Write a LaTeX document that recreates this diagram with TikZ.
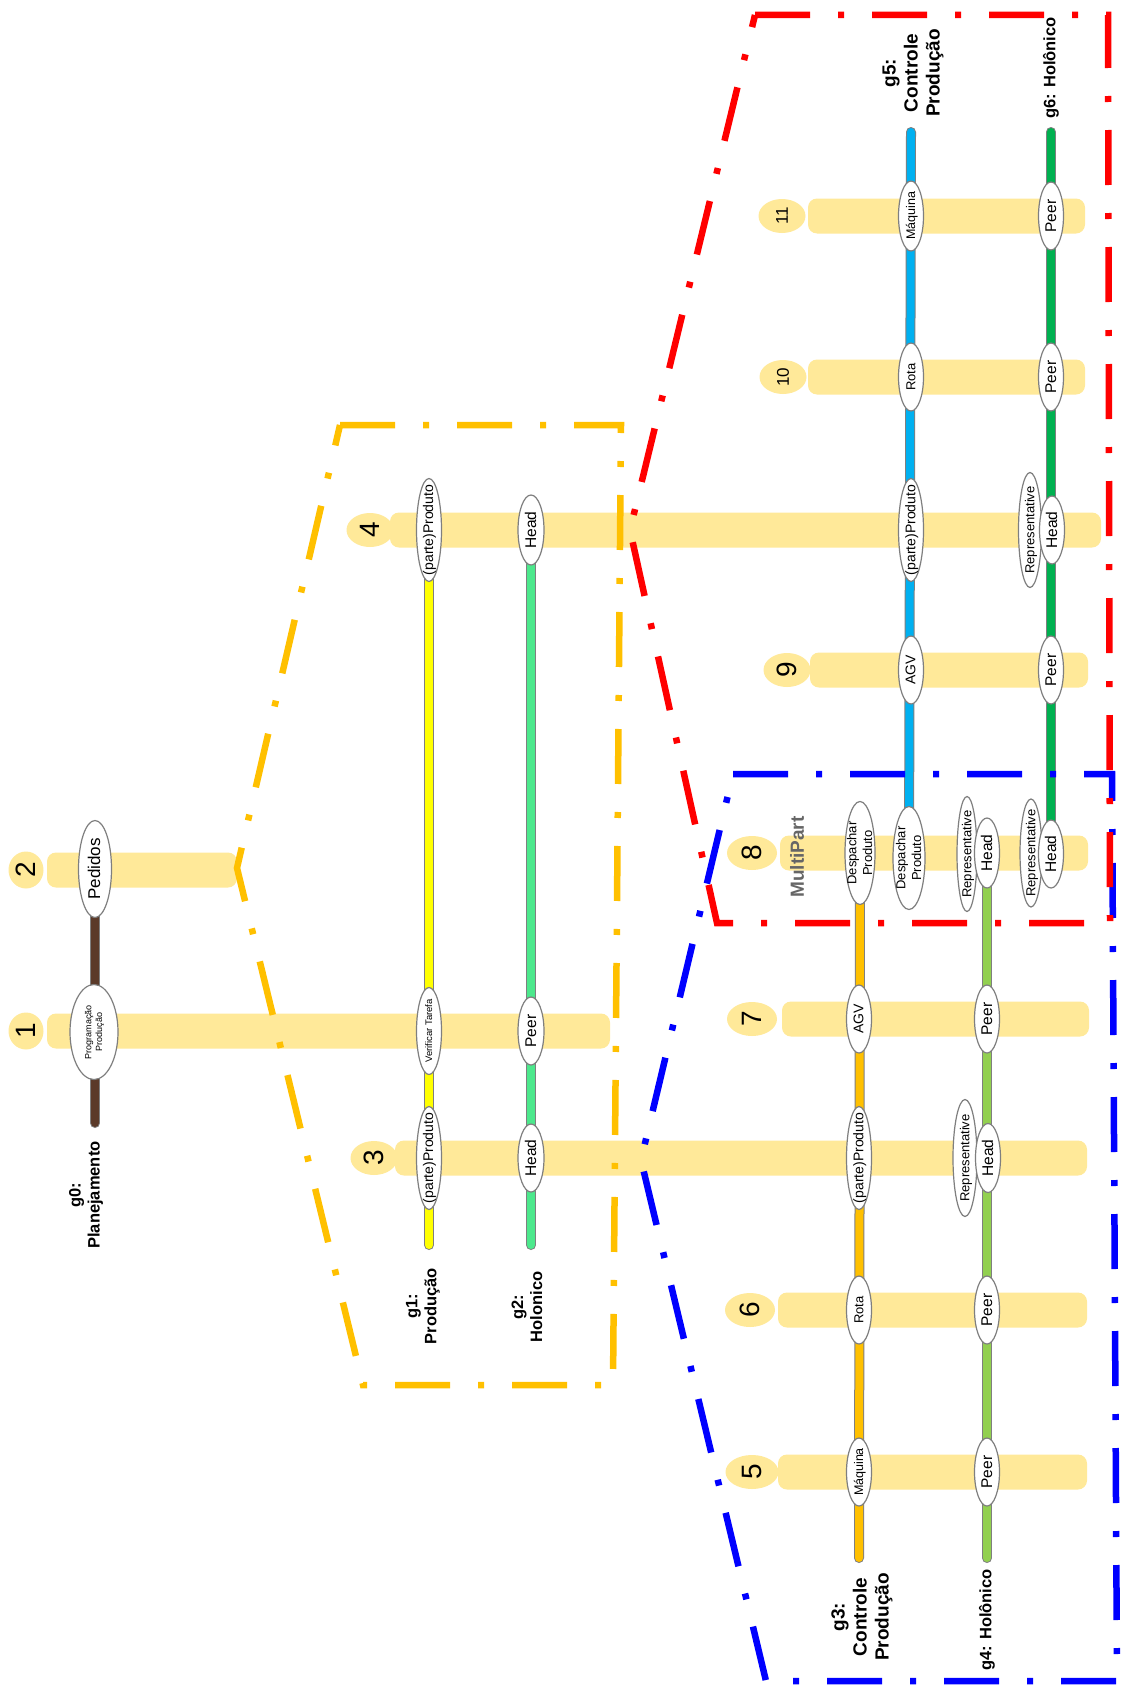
\documentclass[tikz,border=0pt]{standalone}
\usepackage{fontspec}
\setmainfont{Liberation Sans}
\usetikzlibrary{shapes.geometric}
\pgfdeclarelayer{bars}
\pgfdeclarelayer{lines}
\pgfdeclarelayer{top}
\pgfsetlayers{bars,lines,main,top}
\definecolor{barc}{HTML}{FFE999}
\definecolor{brownc}{HTML}{5B3A29}
\definecolor{yelc}{HTML}{FFFF00}
\definecolor{mintc}{HTML}{4CE88C}
\definecolor{orc}{HTML}{FFC000}
\definecolor{lgc}{HTML}{92D050}
\definecolor{bluec}{HTML}{00B0F0}
\definecolor{grc}{HTML}{00B050}
\definecolor{outc}{HTML}{7F7F7F}
\definecolor{redc}{HTML}{FF0000}
\definecolor{bluedc}{HTML}{0000FF}
\newcommand\zt[1]{\makebox[0pt]{\raisebox{-0.32em}[0pt][0pt]{\begin{tabular}{@{}c@{}}#1\end{tabular}}}}
\newcommand\fs[1]{\fontsize{#1}{1.2\dimexpr #1pt\relax}\selectfont}
\tikzset{
  el/.style 2 args={ellipse, draw=outc, line width=1.2pt, fill=white, inner sep=0pt, outer sep=0pt, rotate=90, minimum width=#2, minimum height=#1},
  rowlbl/.style 2 args={ellipse, fill=barc, inner sep=0pt, rotate=90, minimum width=#2, minimum height=#1},
  vline/.style={line cap=round, line width=8pt, draw=#1, preaction={draw=outc, line width=10pt, line cap=round}},
  grp/.style={line width=6.5pt, dash pattern=on 55pt off 28pt on 6pt off 28pt, draw=#1},
  glabel/.style={rotate=90, align=center, inner sep=0pt, font=\bfseries\fontsize{16.5}{19}\selectfont},
  glabelb/.style={rotate=90, align=center, inner sep=0pt, font=\bfseries\fontsize{19}{22}\selectfont},
}
\begin{document}
\begin{tikzpicture}[x=1pt,y=-1pt]
\useasboundingbox (0,0) rectangle (1121,1686);
\begin{pgfonlayer}{bars}
\fill[white] (0,0) rectangle (1121,1686);
\fill[barc, rounded corners=9pt] (47,852.5) rectangle (237,887.5);
\fill[barc, rounded corners=9pt] (47,1013.5) rectangle (610,1048.5);
\fill[barc, rounded corners=9pt] (395,1140.5) rectangle (1087,1175.5);
\fill[barc, rounded corners=9pt] (390,512.5) rectangle (1101,547.5);
\fill[barc, rounded corners=9pt] (778,1454.5) rectangle (1087,1489.5);
\fill[barc, rounded corners=9pt] (778,1292.5) rectangle (1087,1327.5);
\fill[barc, rounded corners=9pt] (782,1001.5) rectangle (1089,1036.5);
\fill[barc, rounded corners=9pt] (780,835.5) rectangle (1088,870.5);
\fill[barc, rounded corners=9pt] (810,652.5) rectangle (1088,687.5);
\fill[barc, rounded corners=9pt] (808,359.5) rectangle (1085,394.5);
\fill[barc, rounded corners=9pt] (808,198.5) rectangle (1085,233.5);
\end{pgfonlayer}

% row labels
\node[rowlbl={35}{37}, font=\fs{28}] (r2) at (26,870) {2};
\node[rowlbl={35}{37}, font=\fs{28}] (r1) at (26,1031) {1};
\node[rowlbl={47}{34}, font=\fs{28}] (r3) at (374,1158) {3};
\node[rowlbl={47}{34}, font=\fs{28}] (r4) at (370,530) {4};
\node[rowlbl={53}{34}, font=\fs{28}] (r5) at (752,1472) {5};
\node[rowlbl={50}{34}, font=\fs{28}] (r6) at (750,1310) {6};
\node[rowlbl={50}{34}, font=\fs{28}] (r7) at (752,1019) {7};
\node[rowlbl={50}{34}, font=\fs{28}] (r8) at (752,853) {8};
\node[rowlbl={47}{34}, font=\fs{28}] (r9) at (787,670) {9};
\node[rowlbl={47}{34}, font=\fs{17}] (r10) at (783,377) {10};
\node[rowlbl={47}{34}, font=\fs{17}] (r11) at (782,216) {11};

\node[rotate=90, inner sep=0pt, text=black!60, font=\bfseries\fs{19}] (mp) at (797,857) {MultiPart};

% g0
\node[el={33}{97}, font=\fs{17}] (n0a) at (95,869) {\zt{Pedidos}};
\node[el={48}{95}, font=\fs{9}] (n0b) at (94,1032) {\zt{Programação\\Produção}};
\coordinate (g0e) at (95,1123);
% g1
\node[el={25}{103}, font=\fs{14}] (n1a) at (429,530) {\zt{(parte)Produto}};
\node[el={25}{87}, font=\fs{9.5}] (n1b) at (429,1031) {\zt{Verificar Tarefa}};
\node[el={25}{103}, font=\fs{14}] (n1c) at (429,1158) {\zt{(parte)Produto}};
\coordinate (g1e) at (429,1245);
% g2
\node[el={26}{70}, font=\fs{15.5}] (n2a) at (531,530) {\zt{Head}};
\node[el={26}{68}, font=\fs{15.5}] (n2b) at (531,1031) {\zt{Peer}};
\node[el={26}{68}, font=\fs{15.5}] (n2c) at (531,1158) {\zt{Head}};
\coordinate (g2e) at (531,1245);
% g3
\node[el={30}{103}, font=\fs{13}] (n3a) at (860,853) {\zt{Despachar\\Produto}};
\node[el={25}{68}, font=\fs{14}] (n3b) at (859,1019) {\zt{AGV}};
\node[el={25}{103}, font=\fs{14}] (n3c) at (859,1158) {\zt{(parte)Produto}};
\node[el={25}{68}, font=\fs{13}] (n3d) at (859,1310) {\zt{Rota}};
\node[el={25}{68}, font=\fs{12.5}] (n3e) at (859,1472) {\zt{Máquina}};
\coordinate (g3e) at (859,1558);
% g4
\node[el={20}{115}, font=\fs{13}] (n4r1) at (967,854) {\zt{Representative}};
\node[el={25}{70}, font=\fs{15.5}] (n4a) at (987,853) {\zt{Head}};
\node[el={25}{68}, font=\fs{15.5}] (n4b) at (987,1019) {\zt{Peer}};
\node[el={24}{117}, font=\fs{13}] (n4r2) at (965,1158) {\zt{Representative}};
\node[el={25}{69}, font=\fs{15.5}] (n4c) at (988,1158) {\zt{Head}};
\node[el={25}{68}, font=\fs{15.5}] (n4d) at (987,1310) {\zt{Peer}};
\node[el={25}{68}, font=\fs{15.5}] (n4e) at (987,1472) {\zt{Peer}};
\coordinate (g4e) at (987,1558);
% g5
\coordinate (g5s) at (911,132);
\node[el={25}{70}, font=\fs{12.5}] (n5a) at (911,216) {\zt{Máquina}};
\node[el={25}{68}, font=\fs{13}] (n5b) at (911,377) {\zt{Rota}};
\node[el={25}{103}, font=\fs{14}] (n5c) at (911,530) {\zt{(parte)Produto}};
\node[el={25}{68}, font=\fs{14}] (n5d) at (911,670) {\zt{AGV}};
\node[el={32}{103}, font=\fs{13}] (n5e) at (909,858) {\zt{Despachar\\Produto}};
% g6
\coordinate (g6s) at (1051,132);
\node[el={25}{68}, font=\fs{15.5}] (n6a) at (1051,216) {\zt{Peer}};
\node[el={25}{68}, font=\fs{15.5}] (n6b) at (1051,377) {\zt{Peer}};
\node[el={23}{115}, font=\fs{13}] (n6r1) at (1030,530) {\zt{Representative}};
\node[el={25}{68}, font=\fs{15.5}] (n6c) at (1052,530) {\zt{Head}};
\node[el={25}{68}, font=\fs{15.5}] (n6d) at (1051,670) {\zt{Peer}};
\node[el={22}{108}, font=\fs{13}] (n6r2) at (1031,853) {\zt{Representative}};
\node[el={25}{68}, font=\fs{15.5}] (n6e) at (1051,854) {\zt{Head}};

\begin{pgfonlayer}{lines}
\draw[vline=brownc] (n0a.center) -- (g0e);
\draw[vline=yelc] (n1a.center) -- (g1e);
\draw[vline=mintc] (n2a.center) -- (g2e);
\draw[vline=orc] (n3a.center) -- (g3e);
\draw[vline=lgc] (n4a.center) -- (g4e);
\draw[vline=bluec] (g5s) -- (n5e.center);
\draw[vline=grc] (g6s) -- (n6e.center);
\end{pgfonlayer}

% labels
\node[glabel] (l0) at (86,1195) {g0:\\Planejamento};
\node[glabel] (l1) at (423,1306) {g1:\\Produção};
\node[glabel] (l2) at (527,1307) {g2:\\Holonico};
\node[glabelb] (l3) at (862,1617) {g3:\\Controle\\Produção};
\node[glabel] (l4) at (987,1620) {g4: Holônico};
\node[glabelb] (l5) at (913,73) {g5:\\Controle\\Produção};
\node[glabel] (l6) at (1051,68) {g6: Holônico};

\begin{pgfonlayer}{top}
\draw[grp=orc] (340,425) -- (621,425) -- (613,1385) -- (363,1385) -- (237,868) -- cycle;
\draw[grp=bluedc] (733,774) -- (1112,774) -- (1117,1681) -- (766,1681) -- (641,1160) -- cycle;
\draw[grp=redc] (755,15) -- (1108,15) -- (1110,923) -- (717,923) -- (630,530) -- cycle;
\end{pgfonlayer}
\end{tikzpicture}
\end{document}
